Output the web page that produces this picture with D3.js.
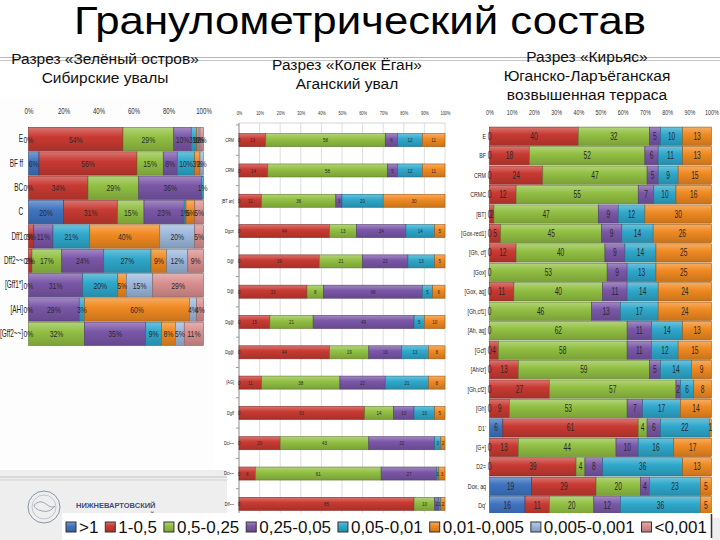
<!DOCTYPE html>
<html>
<head>
<meta charset="utf-8">
<script src="https://cdn.jsdelivr.net/npm/d3@7"></script>
<style>
  body { margin: 0; background: #fff; }
  svg { display: block; font-family: "Liberation Sans", Arial, sans-serif; }
</style>
</head>
<body>
<svg id="slide" width="720" height="540"></svg>
<script>
// fractions, mm
const fractions = [">1", "1-0,5", "0,5-0,25", "0,25-0,05", "0,05-0,01", "0,01-0,005", "0,005-0,001", "<0,001"];
const colors = ["#3f74c0", "#c83a32", "#92c043", "#7a57a8", "#2fa8cc", "#f08a22", "#9cb8dc", "#d9908f"];

// Разрез «Зелёный остров», %
const zoCategories = ["E", "BF ff", "BC", "C", "Dff1", "Dff2~~", "[Gff1*]", "[AH]", "[Gff2~~]"];
const zoValues = [
  [0, 54, 29, 10, 3, 1, 1, 2],
  [6, 56, 15, 8, 10, 3, 2, 0],
  [0, 34, 29, 36, 1, 0, 0, 0],
  [20, 31, 15, 23, 1, 5, 0, 5],
  [0, 3, 0, 11, 21, 40, 20, 5],
  [0, 2, 17, 24, 27, 9, 12, 9],
  [0, 0, 0, 31, 20, 5, 15, 29],
  [0, 0, 0, 29, 3, 60, 4, 4],
  [0, 0, 32, 35, 9, 8, 5, 11]
];
const zoTicks = [0, 0.2, 0.4, 0.6, 0.8, 1];

// Разрез «Колек Ёган», %
const keCategories = ["CRM", "CRM", "[BT an]", "Dgcn", "D@", "D@", "Dg@", "Dg@", "[AG]", "Dgff", "Dci~~", "Dci~~", "Dff~~"];
const keValues = [
  [0, 13, 58, 6, 12, 11],
  [0, 14, 58, 5, 12, 11],
  [0, 11, 36, 3, 20, 30],
  [0, 44, 13, 24, 14, 5],
  [0, 39, 21, 22, 13, 5],
  [0, 33, 8, 48, 5, 6],
  [0, 15, 21, 49, 5, 10],
  [0, 44, 19, 16, 13, 8],
  [0, 11, 38, 22, 21, 8],
  [0, 61, 14, 10, 10, 5],
  [0, 20, 43, 32, 3, 2],
  [0, 8, 61, 27, 1, 3],
  [0, 85, 10, 2, 1, 2]
];
const tenTicks = d3.range(0, 11).map(d => d / 10);

// Разрез «Кирьяс», %
const kiCategories = ["E", "BF", "CRM", "CRMC", "[BT]", "[Gox-red1]", "[Gh, cf]", "[Gox]", "[Gox, aq]", "[Gh,cf1]",
  "[Ah, aq]", "[Gcf]", "[Ah/cr]", "[Gh,cf2]", "[Gh]", "D1'", "[G+]", "D2=", "Dox, aq", "Dq'"];
const kiValues = [
  [0, 40, 32, 5, 10, 13],
  [0, 18, 52, 6, 11, 13],
  [0, 24, 47, 5, 9, 15],
  [0, 12, 55, 7, 10, 16],
  [0, 2, 47, 9, 12, 30],
  [0, 5, 45, 9, 14, 26],
  [0, 12, 40, 9, 14, 25],
  [0, 0, 53, 9, 13, 25],
  [0, 11, 40, 11, 14, 24],
  [0, 0, 46, 13, 17, 24],
  [0, 0, 62, 11, 14, 13],
  [0, 4, 58, 11, 12, 15],
  [0, 13, 59, 5, 14, 9],
  [0, 27, 57, 2, 6, 8],
  [0, 9, 53, 7, 17, 14],
  [6, 61, 4, 6, 22, 1],
  [0, 13, 44, 10, 16, 17],
  [0, 39, 4, 8, 36, 13],
  [19, 29, 20, 4, 23, 5],
  [16, 11, 20, 12, 36, 5]
];

const svg = d3.select("#slide");

// no narrow font installed, so squeeze the glyphs horizontally
function squeeze(sel, k) {
  sel.each(function () {
    const t = d3.select(this);
    const x = +t.attr("x") || 0, y = +t.attr("y") || 0;
    t.attr("x", 0).attr("y", 0).attr("transform", `translate(${x},${y}) scale(${k},1)`);
  });
}

// bar gradients, excel 2007 look
const defs = svg.append("defs");
colors.forEach((c, i) => {
  const gr = defs.append("linearGradient").attr("id", "grad" + i)
    .attr("x1", 0).attr("y1", 0).attr("x2", 0).attr("y2", 1);
  gr.append("stop").attr("offset", "0%").attr("stop-color", d3.interpolateRgb(c, "#fff")(0.3));
  gr.append("stop").attr("offset", "40%").attr("stop-color", c);
  gr.append("stop").attr("offset", "100%").attr("stop-color", d3.color(c).darker(0.5));
});

// footer band
svg.append("rect").attr("x", 0).attr("y", 470).attr("width", 720).attr("height", 70).attr("fill", "#eeeeee");
svg.append("line").attr("x1", 0).attr("x2", 720).attr("y1", 477).attr("y2", 477).attr("stroke", "#c4c4c4");
svg.append("line").attr("x1", 0).attr("x2", 720).attr("y1", 480).attr("y2", 480).attr("stroke", "#d0d0d0");

// university logo
const logo = svg.append("g").attr("transform", "translate(44,507)");
logo.append("circle").attr("r", 16).attr("fill", "none").attr("stroke", "#8894a8").attr("stroke-width", 1);
logo.append("circle").attr("r", 12).attr("fill", "none").attr("stroke", "#a0aabb").attr("stroke-width", 0.6);
logo.append("path").attr("d", "M-10,-2 Q-4,-8 2,-3 T11,-1 Q6,6 -2,4 T-10,-2Z")
  .attr("fill", "none").attr("stroke", "#8894a8").attr("stroke-width", 0.8);
svg.append("text").attr("x", 76).attr("y", 508).attr("font-size", 7.5).attr("font-weight", "bold")
  .attr("fill", "#3d4f7c").text("НИЖНЕВАРТОВСКИЙ");
svg.append("text").attr("x", 76).attr("y", 517.5).attr("font-size", 7.5).attr("font-weight", "bold")
  .attr("fill", "#3d4f7c").text("ГОСУДАРСТВЕННЫЙ УНИВЕРСИТЕТ");

// panels behind charts
svg.append("rect").attr("x", 0).attr("y", 97).attr("width", 213).attr("height", 373).attr("fill", "#fdfdfd");
svg.append("rect").attr("x", 227).attr("y", 98).attr("width", 229).attr("height", 424).attr("fill", "#fff");
svg.append("rect").attr("x", 456).attr("y", 96).attr("width", 264).attr("height", 422).attr("fill", "#fff");

// header
svg.append("line").attr("x1", 0).attr("x2", 720).attr("y1", 57.5).attr("y2", 57.5).attr("stroke", "#b4b4b4");
svg.append("line").attr("x1", 0).attr("x2", 720).attr("y1", 60.5).attr("y2", 60.5).attr("stroke", "#c8c8c8");
svg.append("text").attr("x", 360).attr("y", 34).attr("text-anchor", "middle")
  .attr("font-size", 39).attr("fill", "#000").attr("textLength", 572).attr("lengthAdjust", "spacingAndGlyphs")
  .text("Гранулометрический состав");

const subtitles = [
  { x: 105, lines: ["Разрез «Зелёный остров»", "Сибирские увалы"], y: 64 },
  { x: 347, lines: ["Разрез «Колек Ёган»", "Аганский увал"], y: 70 },
  { x: 587, lines: ["Разрез «Кирьяс»", "Юганско-Ларъёганская", "возвышенная терраса"], y: 62 }
];
subtitles.forEach(s => {
  s.lines.forEach((t, i) => {
    svg.append("text").attr("x", s.x).attr("y", s.y + i * 19).attr("text-anchor", "middle")
      .attr("font-size", 15.5).attr("fill", "#111").text(t);
  });
});

function drawChart(cfg) {
  const g = svg.append("g");
  const n = cfg.values[0].length;
  const x = d3.scaleLinear().domain([0, 1]).range([cfg.x0, cfg.x1]);
  const y = d3.scaleBand().domain(d3.range(cfg.categories.length)).range([cfg.y0, cfg.y1])
    .paddingInner(cfg.pad).paddingOuter(cfg.pad / 2);

  if (cfg.grid) {
    g.append("g").selectAll("line").data(cfg.ticks).join("line")
      .attr("x1", d => x(d)).attr("x2", d => x(d))
      .attr("y1", cfg.gridTop).attr("y2", cfg.y1)
      .attr("stroke", "#d6d6d6").attr("stroke-width", 0.8);
    g.append("line").attr("x1", cfg.x0).attr("x2", cfg.x1).attr("y1", cfg.gridTop).attr("y2", cfg.gridTop)
      .attr("stroke", "#d6d6d6");
    g.append("line").attr("x1", cfg.x0).attr("x2", cfg.x0).attr("y1", cfg.gridTop).attr("y2", cfg.y1)
      .attr("stroke", "#999");
    g.append("g").selectAll("line").data(d3.range(cfg.categories.length + 1)).join("line")
      .attr("x1", cfg.x0 - 3).attr("x2", cfg.x0)
      .attr("y1", d => cfg.y0 + d * y.step()).attr("y2", d => cfg.y0 + d * y.step())
      .attr("stroke", "#999");
  }

  // top percent axis
  const ax = g.append("g").attr("transform", `translate(0,${cfg.axisY})`)
    .call(d3.axisTop(x).tickValues(cfg.ticks).tickFormat(d3.format(".0%")).tickSize(0).tickPadding(0));
  ax.select(".domain").remove();
  ax.selectAll("text").attr("font-size", cfg.axisFont).attr("fill", "#333").attr("font-family", null)
    .call(squeeze, 0.72);

  // category axis
  const ay = g.append("g").attr("transform", `translate(${cfg.labelX},0)`)
    .call(d3.axisLeft(y).tickFormat(i => cfg.categories[i]).tickSize(0).tickPadding(0));
  ay.select(".domain").remove();
  ay.selectAll("text").attr("font-size", cfg.catFont).attr("fill", "#222").attr("font-family", null)
    .call(squeeze, cfg.catSqueeze);

  const stack = d3.stack().keys(d3.range(n)).value((d, k) => d[k]).offset(d3.stackOffsetExpand);
  const series = stack(cfg.values);

  const layer = g.append("g").selectAll("g").data(series).join("g")
    .attr("fill", (s, i) => `url(#grad${i})`)
    .attr("stroke", (s, i) => d3.color(colors[i]).darker(1.2))
    .attr("stroke-width", 0.6);
  layer.selectAll("rect").data((s, i) => s.map((p, j) => ({ p, j, k: i })).filter(d => cfg.values[d.j][d.k] > 0))
    .join("rect")
    .attr("x", d => x(d.p[0]))
    .attr("y", d => y(d.j))
    .attr("width", d => x(d.p[1]) - x(d.p[0]))
    .attr("height", y.bandwidth());

  // value labels
  const labels = [];
  series.forEach((s, k) => s.forEach((p, j) => {
    const v = cfg.values[j][k];
    if (v > 0) labels.push({ x: x((p[0] + p[1]) / 2), y: y(j) + y.bandwidth() / 2, t: v + cfg.suffix });
    else if (k === 0) labels.push({ x: x(0), y: y(j) + y.bandwidth() / 2, t: "0" + cfg.suffix });
  }));
  g.append("g").selectAll("text").data(labels).join("text")
    .attr("x", d => d.x).attr("y", d => d.y).attr("dy", "0.35em")
    .attr("text-anchor", "middle").attr("font-size", cfg.valFont).attr("fill", "#2a2a2a")
    .text(d => d.t)
    .call(squeeze, cfg.valSqueeze);
}

drawChart({
  categories: zoCategories, values: zoValues, ticks: zoTicks,
  x0: 28.5, x1: 203.5, y0: 127, y1: 346, pad: 0.04,
  axisY: 114, axisFont: 8.5, catFont: 10, catSqueeze: 0.64, valFont: 9.5, valSqueeze: 0.72,
  labelX: 23, suffix: "%", grid: false
});

drawChart({
  categories: keCategories, values: keValues, ticks: tenTicks,
  x0: 239, x1: 445, y0: 125, y1: 519, pad: 0.57, gridTop: 123,
  axisY: 115, axisFont: 5.5, catFont: 5.5, catSqueeze: 0.7, valFont: 6, valSqueeze: 0.75,
  labelX: 234, suffix: "", grid: true
});

drawChart({
  categories: kiCategories, values: kiValues, ticks: tenTicks,
  x0: 489.5, x1: 711.5, y0: 126.5, y1: 515.5, pad: 0.06,
  axisY: 115, axisFont: 7.5, catFont: 8, catSqueeze: 0.66, valFont: 10, valSqueeze: 0.66,
  labelX: 486, suffix: "", grid: false
});

// legend, spread to fill the white box
const leg = svg.append("g");
leg.append("rect").attr("x", 62).attr("y", 513).attr("width", 650).attr("height", 27).attr("fill", "#fff");
leg.append("line").attr("x1", 711.5).attr("x2", 711.5).attr("y1", 514).attr("y2", 538).attr("stroke", "#333").attr("stroke-width", 1.5);
const legTexts = fractions.map(f => leg.append("text").attr("y", 533).attr("font-size", 17).attr("fill", "#111").text(f));
const legW = legTexts.map(t => t.node().getComputedTextLength());
const legGap = (707 - 66 - d3.sum(legW) - fractions.length * 13) / (fractions.length - 1);
let lx = 66;
fractions.forEach((f, i) => {
  leg.append("rect").attr("x", lx).attr("y", 522).attr("width", 10).attr("height", 10)
    .attr("fill", `url(#grad${i})`).attr("stroke", "#333").attr("stroke-width", 1);
  legTexts[i].attr("x", lx + 13);
  lx += 13 + legW[i] + legGap;
});
</script>
</body>
</html>
